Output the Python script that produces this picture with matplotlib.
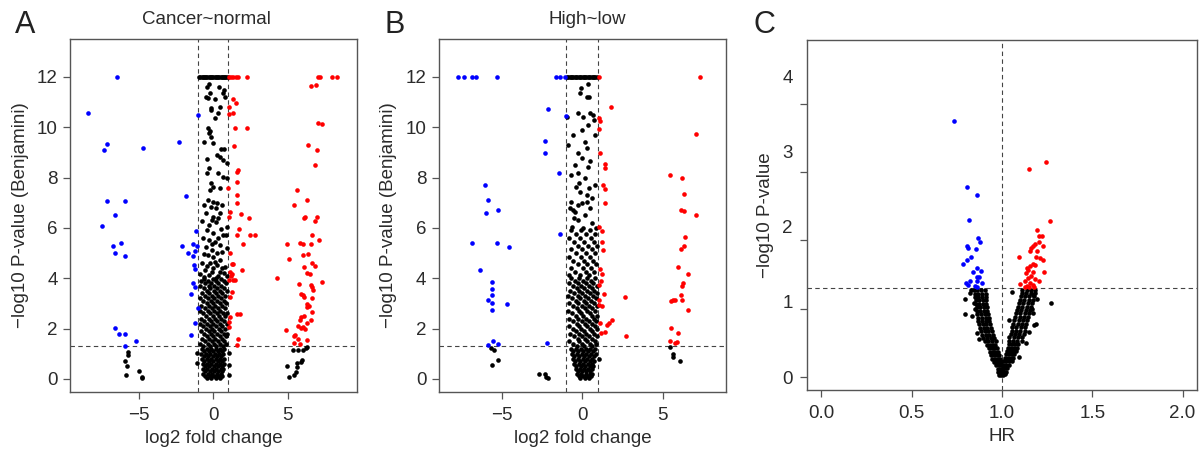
import numpy as np
import matplotlib
matplotlib.use('Agg')
import matplotlib.pyplot as plt

plt.rcParams['font.family'] = ['Liberation Sans', 'DejaVu Sans']

# ---------------- panel A : Cancer~normal ----------------
a_blue = [(-6.46, 12.0), (-8.42, 10.58), (-7.16, 9.32), (-7.34, 9.10), (-4.76, 9.17),
          (-2.31, 9.43), (-1.05, 10.48), (-7.16, 7.07), (-5.93, 7.07), (-1.86, 7.25),
          (-6.64, 6.53), (-7.52, 6.09), (-6.73, 5.28), (-6.24, 5.39), (-6.64, 5.02),
          (-5.93, 4.89), (-1.17, 5.87), (-2.13, 5.28), (-1.35, 5.35), (-1.08, 5.27),
          (-1.71, 5.02), (-1.23, 5.09), (-1.35, 4.87), (-1.30, 4.53), (-1.21, 4.37),
          (-1.39, 3.81), (-1.23, 3.64), (-1.50, 3.38), (-1.03, 2.83), (-1.26, 2.24),
          (-1.48, 1.75), (-6.62, 2.03), (-6.35, 1.77), (-5.95, 1.80), (-5.23, 1.52),
          (-5.93, 1.32)]

a_red = [(1.05, 12.0), (1.20, 12.0), (1.35, 12.0), (1.50, 12.0), (1.65, 12.0), (2.24, 12.0),
         (1.35, 11.11), (1.53, 10.95), (1.08, 10.82), (1.35, 10.58), (1.03, 10.53),
         (1.46, 9.96), (2.24, 9.96), (1.41, 9.26), (1.64, 8.30), (1.59, 8.24), (1.62, 7.84),
         (1.01, 7.60), (1.57, 7.31), (1.62, 6.98), (1.12, 6.65), (1.84, 6.56), (1.08, 6.45),
         (2.42, 6.38), (1.73, 5.95), (1.57, 5.72), (2.47, 5.72), (2.81, 5.72), (1.98, 5.38),
         (1.12, 4.99), (1.23, 4.56), (1.35, 4.56), (1.12, 4.23), (1.23, 4.16), (1.17, 4.09),
         (1.91, 4.33), (1.08, 3.93), (1.35, 3.93), (1.48, 3.93), (1.28, 3.46), (1.12, 3.27),
         (1.62, 2.58), (1.80, 2.58), (1.12, 2.48), (1.08, 2.28), (1.03, 2.08), (1.66, 1.58),
         (1.59, 1.35),
         (7.05, 12.0), (7.19, 12.0), (8.01, 12.0), (8.30, 12.0), (6.60, 11.64), (6.91, 11.68),
         (7.07, 10.16), (7.32, 10.12), (6.40, 9.30), (6.96, 9.10), (6.85, 8.50), (5.61, 7.51),
         (5.43, 6.91), (6.29, 7.11), (6.13, 6.41), (6.17, 6.44), (6.96, 6.45), (6.87, 6.28),
         (6.64, 5.70), (7.09, 5.52), (4.94, 5.36), (5.81, 5.39), (6.02, 5.35), (6.55, 5.36),
         (5.10, 4.77), (6.02, 4.93), (6.35, 4.97), (6.13, 4.46), (6.62, 4.60), (6.82, 4.50),
         (6.33, 4.20), (6.51, 4.16), (4.29, 4.03), (7.32, 3.87), (5.75, 3.79), (6.55, 3.75),
         (6.67, 3.64), (6.71, 3.54), (5.93, 3.36), (6.02, 3.34), (6.11, 3.25), (6.64, 3.21),
         (6.33, 2.97), (6.44, 2.90), (6.33, 2.85), (6.67, 2.65), (5.90, 2.45), (6.11, 2.52),
         (5.84, 2.33), (6.58, 2.34), (5.70, 2.12), (6.33, 2.21), (6.02, 2.08), (6.20, 1.97),
         (5.93, 2.01), (4.87, 1.95), (5.50, 1.75), (5.43, 1.71), (5.72, 1.58), (6.29, 1.55),
         (5.47, 1.44), (5.84, 1.39)]

a_black = [
    # left and right groups below the cut-off
    (-5.75, 1.05), (-5.73, 0.95), (-5.93, 0.72), (-5.82, 0.52), (-5.91, 0.17), (-5.01, 0.33),
    (-4.80, 0.09), (-4.80, 0.05),
    (5.39, 1.14), (5.72, 1.14), (6.06, 1.15), (6.22, 1.22), (6.33, 1.26), (5.99, 0.75),
    (5.90, 0.68), (5.61, 0.65), (5.66, 0.49), (4.98, 0.52), (5.59, 0.26), (5.43, 0.16),
    (5.10, 0.09),
    # capped values at 12
    (-0.95, 12), (-0.87, 12), (-0.79, 12), (-0.71, 12), (-0.63, 12), (-0.55, 12), (-0.47, 12),
    (-0.39, 12), (-0.31, 12), (-0.23, 12), (-0.15, 12), (-0.07, 12), (0.01, 12), (0.09, 12),
    (0.17, 12), (0.25, 12), (0.33, 12), (0.41, 12), (0.49, 12), (0.57, 12), (0.65, 12),
    (0.73, 12), (0.81, 12), (0.89, 12), (0.96, 12),
    # column, upper part
    (-0.27, 11.72), (-0.40, 11.59), (0.36, 11.59), (-0.52, 11.22), (-0.22, 11.35), (-0.34, 11.15),
    (0.11, 11.11), (0.72, 11.48), (0.63, 11.35), (0.79, 11.19), (-0.18, 10.75), (0.45, 10.82),
    (-0.18, 10.69), (0.34, 10.56), (0.11, 10.36), (-0.34, 9.96), (-0.22, 9.85), (-0.63, 9.43),
    (-0.27, 9.76), (-0.18, 9.63), (0.00, 9.39), (0.49, 9.13), (0.72, 9.13), (0.22, 8.90),
    (0.45, 8.83), (0.67, 8.70), (0.90, 8.60), (-0.45, 8.73), (-0.29, 8.37), (-0.40, 8.17),
    (0.34, 8.17), (0.67, 8.04), (0.94, 7.97), (-0.18, 7.77), (0.00, 7.64), (-0.22, 7.51),
    (0.45, 7.58), (-0.34, 7.11), (0.00, 7.05), (0.22, 6.98), (-0.18, 6.85), (0.18, 6.78),
    (0.45, 6.58), (-0.04, 6.45), (-0.79, 6.29), (-0.11, 6.32), (0.18, 6.25), (-0.45, 5.92),
    (0.90, 6.05), (0.00, 5.79), (0.67, 5.72), (0.85, 5.72), (-0.27, 5.52), (0.11, 5.46),
    (-0.49, 5.26), (0.45, 5.32), (0.90, 5.19), (-0.11, 5.13), (0.22, 4.99), (-0.34, 4.93),
    (0.00, 4.83), (0.45, 4.73), (-0.79, 4.60), (-0.22, 4.60), (0.22, 4.53), (0.79, 4.46),
    (-0.56, 4.33), (0.00, 4.40), (0.45, 4.26), (-0.90, 4.17), (-0.27, 4.13), (0.34, 4.07),
    (0.90, 4.09), (-0.60, 6.90), (0.60, 6.90), (-0.50, 6.60), (0.30, 6.40), (-0.30, 6.10),
    (0.50, 5.95), (-0.70, 5.60), (0.30, 5.60), (-0.10, 5.35), (0.60, 5.05), (-0.60, 4.95),
    (0.10, 4.65), (-0.45, 4.50), (0.60, 4.40), (-0.10, 4.25), (0.70, 4.20), (-0.65, 4.05),
    (0.15, 4.00),
    # column, dense part
    (-0.62, 3.98), (-0.05, 3.98), (0.52, 3.98), (-0.80, 3.90), (-0.35, 3.90), (0.18, 3.90),
    (0.70, 3.90), (-0.55, 3.80), (-0.12, 3.80), (0.33, 3.80), (0.86, 3.80), (-0.88, 3.70),
    (-0.30, 3.70), (0.08, 3.70), (0.55, 3.70), (-0.62, 3.60), (-0.20, 3.60), (0.25, 3.60),
    (0.72, 3.60), (-0.42, 3.50), (0.02, 3.50), (0.45, 3.50), (0.90, 3.50), (-0.78, 3.40),
    (-0.28, 3.40), (0.15, 3.40), (0.60, 3.40), (-0.55, 3.30), (-0.08, 3.30), (0.35, 3.30),
    (0.80, 3.30), (-0.90, 3.20), (-0.35, 3.20), (0.05, 3.20), (0.50, 3.20), (-0.66, 3.10),
    (-0.18, 3.10), (0.25, 3.10), (0.70, 3.10), (-0.45, 3.00), (-0.02, 3.00), (0.42, 3.00),
    (0.88, 3.00), (-0.80, 2.90), (-0.30, 2.90), (0.12, 2.90), (0.58, 2.90), (-0.58, 2.80),
    (-0.10, 2.80), (0.32, 2.80), (0.76, 2.80), (-0.92, 2.70), (-0.38, 2.70), (0.02, 2.70),
    (0.48, 2.70), (-0.68, 2.60), (-0.20, 2.60), (0.22, 2.60), (0.66, 2.60), (0.92, 2.60),
    (-0.48, 2.50), (-0.05, 2.50), (0.40, 2.50), (0.82, 2.50), (-0.82, 2.40), (-0.30, 2.40),
    (0.10, 2.40), (0.55, 2.40), (-0.60, 2.30), (-0.15, 2.30), (0.28, 2.30), (0.72, 2.30),
    (-0.92, 2.20), (-0.40, 2.20), (0.00, 2.20), (0.46, 2.20), (0.90, 2.20), (-0.70, 2.10),
    (-0.22, 2.10), (0.18, 2.10), (0.62, 2.10), (-0.50, 2.00), (-0.06, 2.00), (0.36, 2.00),
    (0.80, 2.00), (-0.85, 1.90), (-0.32, 1.90), (0.08, 1.90), (0.52, 1.90), (-0.62, 1.80),
    (-0.16, 1.80), (0.26, 1.80), (0.70, 1.80), (0.93, 1.80), (-0.44, 1.70), (0.00, 1.70),
    (0.42, 1.70), (0.84, 1.70), (-0.78, 1.60), (-0.28, 1.60), (0.14, 1.60), (0.58, 1.60),
    (-0.58, 1.50), (-0.10, 1.50), (0.30, 1.50), (0.74, 1.50), (-0.90, 1.40), (-0.38, 1.40),
    (0.04, 1.40), (0.48, 1.40), (0.88, 1.40), (-0.68, 1.30), (-0.20, 1.30), (0.20, 1.30),
    (0.64, 1.30),
    # column, bottom
    (-0.75, 1.20), (-0.45, 1.20), (-0.15, 1.20), (0.15, 1.20), (0.45, 1.20), (0.72, 1.20),
    (-0.60, 1.10), (-0.30, 1.10), (0.00, 1.10), (0.30, 1.10), (0.60, 1.10),
    (-0.80, 1.00), (-0.50, 1.00), (-0.20, 1.00), (0.10, 1.00), (0.40, 1.00), (0.68, 1.00),
    (-0.65, 0.90), (-0.35, 0.90), (-0.05, 0.90), (0.25, 0.90), (0.55, 0.90),
    (-0.75, 0.80), (-0.45, 0.80), (-0.15, 0.80), (0.15, 0.80), (0.45, 0.80), (0.70, 0.80),
    (-0.60, 0.70), (-0.30, 0.70), (0.00, 0.70), (0.30, 0.70), (0.58, 0.70),
    (-0.72, 0.60), (-0.42, 0.60), (-0.12, 0.60), (0.18, 0.60), (0.48, 0.60), (0.70, 0.60),
    (-0.58, 0.50), (-0.28, 0.50), (0.02, 0.50), (0.32, 0.50), (0.60, 0.50),
    (-0.70, 0.40), (-0.40, 0.40), (-0.10, 0.40), (0.20, 0.40), (0.50, 0.40), (0.68, 0.40),
    (-0.55, 0.30), (-0.25, 0.30), (0.05, 0.30), (0.35, 0.30), (0.60, 0.30),
    (-0.68, 0.20), (-0.38, 0.20), (-0.08, 0.20), (0.22, 0.20), (0.52, 0.20),
    (-0.55, 0.10), (-0.25, 0.10), (0.05, 0.10), (0.35, 0.10), (0.62, 0.10),
    (-0.45, 0.03), (-0.15, 0.03), (0.15, 0.03), (0.45, 0.03),
    (-1.12, 0.62), (-1.08, 1.02), (1.03, 0.16), (1.03, 1.02), (1.05, 0.55)]

# ---------------- panel B : High~low ----------------
b_blue = [(-7.70, 12.0), (-7.35, 12.0), (-6.88, 12.0), (-6.62, 12.0), (-5.30, 12.0),
          (-1.62, 12.0), (-1.38, 12.0), (-1.07, 12.0), (-2.11, 10.72), (-2.32, 9.44),
          (-2.32, 8.97), (-1.43, 8.17), (-6.07, 7.72), (-5.84, 7.10), (-5.96, 6.58),
          (-5.24, 6.72), (-1.39, 5.77), (-6.87, 5.39), (-5.32, 5.39), (-4.55, 5.25),
          (-6.38, 4.32), (-5.61, 3.84), (-5.61, 3.58), (-5.61, 3.32), (-5.84, 3.15),
          (-5.61, 3.02), (-4.70, 2.97), (-5.61, 2.75), (-5.57, 1.52), (-5.86, 1.35),
          (-5.24, 1.40), (-2.22, 1.44), (-1.03, 10.45)]

b_red = [(1.06, 12.0), (7.28, 12.0), (1.76, 10.82), (7.03, 9.72), (5.45, 8.11), (6.18, 7.99),
         (6.31, 7.36), (6.10, 6.70), (6.33, 6.69), (7.05, 6.50), (6.37, 5.63), (6.29, 5.30),
         (6.14, 5.15), (5.91, 4.44), (6.55, 4.16), (6.24, 3.80), (6.20, 3.70), (6.10, 3.35),
         (5.75, 3.15), (5.65, 3.14), (5.48, 3.09), (6.18, 3.13), (6.55, 2.73), (2.62, 3.26),
         (2.68, 1.71), (5.50, 2.04), (5.97, 1.84), (5.45, 1.51), (5.87, 1.46), (5.75, 1.42),
         (1.06, 10.36), (1.12, 10.25), (1.06, 9.92), (1.08, 8.97), (1.41, 8.54), (1.41, 8.40),
         (1.26, 7.71), (1.41, 7.55), (1.39, 7.00), (1.04, 6.05), (1.20, 5.88), (1.24, 5.46),
         (1.26, 5.13), (1.10, 4.37), (1.22, 4.17), (1.04, 3.74), (1.35, 3.38), (1.04, 3.14),
         (1.20, 2.90), (1.06, 2.94), (1.10, 2.24), (1.55, 2.15), (1.68, 2.24), (1.84, 2.34),
         (1.41, 1.85), (1.14, 1.84), (1.16, 3.89)]

b_black = [
    (-5.65, 1.21), (-5.49, 1.13), (-5.63, 0.56), (-5.26, 0.75), (-2.71, 0.20), (-2.34, 0.19),
    (-2.24, 0.09), (-2.13, 0.05),
    (5.45, 1.26), (5.66, 0.98), (5.60, 0.86), (6.08, 0.73),
    # capped values at 12
    (-0.95, 12), (-0.87, 12), (-0.79, 12), (-0.71, 12), (-0.63, 12), (-0.55, 12), (-0.47, 12),
    (-0.39, 12), (-0.31, 12), (-0.23, 12), (-0.15, 12), (-0.07, 12), (0.01, 12), (0.09, 12),
    (0.17, 12), (0.25, 12), (0.33, 12), (0.41, 12), (0.49, 12), (0.57, 12), (0.65, 12),
    (0.73, 12), (0.81, 12), (0.89, 12),
    # column, upper part
    (0.37, 11.72), (-0.08, 11.55), (-0.14, 11.35), (0.27, 11.22), (-0.25, 10.56), (0.06, 10.42),
    (-0.97, 10.42), (0.68, 10.49), (0.37, 10.09), (-0.04, 9.89), (0.79, 9.70), (-0.56, 9.70),
    (0.17, 9.43), (-0.87, 9.30), (0.27, 9.17), (-0.25, 8.97), (-0.04, 8.77), (0.48, 8.64),
    (-0.45, 8.50), (0.37, 8.44), (-0.70, 8.11), (-0.25, 8.17), (0.17, 7.97), (0.79, 7.71),
    (-0.41, 7.64), (-0.14, 7.44), (0.27, 7.31), (-0.70, 7.05), (-0.04, 6.98), (0.48, 6.78),
    (-0.45, 6.65), (0.17, 6.52), (-0.25, 6.32), (0.58, 6.19), (-0.66, 6.05), (0.06, 5.99),
    (-0.76, 6.78), (-0.60, 6.72), (-0.30, 6.90), (0.30, 7.05), (-0.20, 7.80), (0.40, 7.60),
    (0.60, 7.20), (-0.50, 6.40), (0.85, 6.00), (0.50, 10.55), (0.75, 10.30), (0.40, 11.20),
    # column, middle
    (-0.72, 5.90), (-0.10, 5.90), (0.45, 5.90), (-0.40, 5.75), (0.20, 5.75), (0.80, 5.75),
    (-0.85, 5.60), (-0.15, 5.60), (0.55, 5.60), (-0.50, 5.45), (0.10, 5.45), (0.70, 5.45),
    (-0.25, 5.30), (0.35, 5.30), (0.88, 5.30), (-0.68, 5.15), (0.00, 5.15), (0.60, 5.15),
    (-0.40, 5.00), (0.22, 5.00), (0.78, 5.00), (-0.80, 4.85), (-0.10, 4.85), (0.48, 4.85),
    (-0.55, 4.70), (0.12, 4.70), (0.66, 4.70), (-0.30, 4.55), (0.32, 4.55), (0.86, 4.55),
    (-0.70, 4.40), (0.02, 4.40), (0.55, 4.40), (-0.45, 4.25), (0.20, 4.25), (0.75, 4.25),
    (-0.82, 4.12), (-0.12, 4.12), (0.42, 4.12),
    # column, dense part
    (-0.70, 4.00), (-0.20, 4.00), (0.30, 4.00), (0.78, 4.00), (-0.45, 3.90), (0.05, 3.90),
    (0.55, 3.90), (-0.85, 3.80), (-0.30, 3.80), (0.20, 3.80), (0.68, 3.80), (-0.58, 3.70),
    (-0.08, 3.70), (0.40, 3.70), (0.88, 3.70), (-0.35, 3.60), (0.12, 3.60), (0.60, 3.60),
    (-0.78, 3.50), (-0.22, 3.50), (0.28, 3.50), (0.75, 3.50), (-0.52, 3.40), (0.00, 3.40),
    (0.48, 3.40), (0.92, 3.40), (-0.88, 3.30), (-0.30, 3.30), (0.18, 3.30), (0.65, 3.30),
    (-0.62, 3.20), (-0.12, 3.20), (0.36, 3.20), (0.82, 3.20), (-0.40, 3.10), (0.08, 3.10),
    (0.55, 3.10), (-0.82, 3.00), (-0.25, 3.00), (0.25, 3.00), (0.72, 3.00), (-0.55, 2.90),
    (-0.05, 2.90), (0.42, 2.90), (0.90, 2.90), (-0.35, 2.80), (0.15, 2.80), (0.62, 2.80),
    (-0.90, 2.70), (-0.18, 2.70), (0.32, 2.70), (0.80, 2.70), (-0.62, 2.60), (-0.10, 2.60),
    (0.48, 2.60), (-0.40, 2.50), (0.05, 2.50), (0.58, 2.50), (0.92, 2.50), (-0.80, 2.40),
    (-0.25, 2.40), (0.22, 2.40), (0.70, 2.40), (-0.55, 2.30), (-0.05, 2.30), (0.40, 2.30),
    (0.85, 2.30), (-0.32, 2.20), (0.15, 2.20), (0.60, 2.20), (-0.85, 2.10), (-0.20, 2.10),
    (0.30, 2.10), (0.76, 2.10), (-0.60, 2.00), (-0.08, 2.00), (0.45, 2.00), (0.90, 2.00),
    (-0.38, 1.90), (0.10, 1.90), (0.58, 1.90), (-0.78, 1.80), (-0.22, 1.80), (0.25, 1.80),
    (0.72, 1.80), (-0.52, 1.70), (0.00, 1.70), (0.42, 1.70), (0.88, 1.70), (-0.30, 1.60),
    (0.16, 1.60), (0.62, 1.60), (-0.82, 1.50), (-0.18, 1.50), (0.30, 1.50), (0.78, 1.50),
    (-0.58, 1.40), (-0.05, 1.40), (0.45, 1.40), (0.86, 1.40), (-0.35, 1.30), (0.12, 1.30),
    (0.60, 1.30),
    # column, bottom
    (-0.70, 1.20), (-0.40, 1.20), (-0.10, 1.20), (0.20, 1.20), (0.50, 1.20), (0.80, 1.20),
    (-0.55, 1.10), (-0.25, 1.10), (0.05, 1.10), (0.35, 1.10), (0.65, 1.10),
    (-0.65, 1.00), (-0.35, 1.00), (-0.05, 1.00), (0.25, 1.00), (0.55, 1.00), (0.82, 1.00),
    (-0.50, 0.90), (-0.20, 0.90), (0.10, 0.90), (0.40, 0.90), (0.70, 0.90),
    (-0.58, 0.80), (-0.28, 0.80), (0.02, 0.80), (0.32, 0.80), (0.62, 0.80),
    (-0.45, 0.70), (-0.15, 0.70), (0.15, 0.70), (0.45, 0.70), (0.70, 0.70),
    (-0.50, 0.60), (-0.22, 0.60), (0.06, 0.60), (0.34, 0.60), (0.60, 0.60),
    (-0.38, 0.50), (-0.10, 0.50), (0.18, 0.50), (0.46, 0.50), (0.66, 0.50),
    (-0.42, 0.40), (-0.15, 0.40), (0.12, 0.40), (0.38, 0.40), (0.62, 0.40),
    (-0.30, 0.30), (-0.04, 0.30), (0.22, 0.30), (0.48, 0.30),
    (-0.32, 0.20), (-0.06, 0.20), (0.20, 0.20), (0.45, 0.20), (0.60, 0.20),
    (-0.22, 0.10), (0.04, 0.10), (0.30, 0.10), (0.52, 0.10),
    (-0.12, 0.03), (0.14, 0.03), (0.40, 0.03),
    (1.04, 0.78)]

# ---------------- panel C : HR ----------------
c_blue = [(0.736, 3.74), (0.806, 2.78), (0.865, 2.66), (0.819, 2.30), (0.867, 2.03),
          (0.880, 1.97), (0.806, 1.91), (0.812, 1.88), (0.858, 1.87), (0.806, 1.71),
          (0.832, 1.75), (0.784, 1.66), (0.862, 1.59), (0.884, 1.55), (0.838, 1.53),
          (0.865, 1.47), (0.876, 1.46), (0.862, 1.41), (0.825, 1.40), (0.799, 1.38),
          (0.889, 1.38), (0.812, 1.34), (0.849, 1.33), (0.862, 1.32)]

c_red = [(1.244, 3.15), (1.153, 3.04), (1.269, 2.28), (1.192, 2.15), (1.203, 2.07),
         (1.220, 2.06), (1.183, 1.95), (1.203, 1.97), (1.225, 1.92), (1.160, 1.89),
         (1.175, 1.92), (1.157, 1.85), (1.196, 1.84), (1.188, 1.76), (1.210, 1.74),
         (1.225, 1.71), (1.094, 1.76), (1.171, 1.66), (1.186, 1.64), (1.138, 1.59),
         (1.157, 1.62), (1.147, 1.56), (1.170, 1.54), (1.133, 1.52), (1.231, 1.53),
         (1.160, 1.48), (1.142, 1.45), (1.184, 1.43), (1.203, 1.40), (1.129, 1.40),
         (1.101, 1.36), (1.157, 1.37), (1.170, 1.35), (1.138, 1.33), (1.179, 1.32),
         (1.127, 1.31), (1.153, 1.31)]

c_black = [
    # scattered
    (0.797, 1.14), (0.795, 0.92), (0.828, 1.27), (0.845, 1.08), (0.834, 0.89), (0.850, 1.00),
    (0.862, 0.64), (0.871, 0.55), (0.825, 1.23),
    (1.057, 1.25), (1.041, 0.83), (1.197, 1.14), (1.271, 1.09), (1.172, 0.93), (1.190, 0.78),
    (1.153, 0.66), (1.133, 0.50), (1.094, 0.30), (1.180, 0.76), (1.165, 1.00), (1.170, 1.20),
    # left arm
    (0.845, 1.27), (0.865, 1.27), (0.885, 1.27), (0.905, 1.27),
    (0.850, 1.22), (0.870, 1.22), (0.890, 1.22), (0.910, 1.22),
    (0.850, 1.17), (0.870, 1.17), (0.890, 1.17), (0.910, 1.17),
    (0.855, 1.12), (0.875, 1.12), (0.895, 1.12), (0.915, 1.12),
    (0.855, 1.07), (0.875, 1.07), (0.895, 1.07), (0.915, 1.07),
    (0.860, 1.02), (0.880, 1.02), (0.900, 1.02), (0.920, 1.02),
    (0.860, 0.97), (0.880, 0.97), (0.900, 0.97), (0.920, 0.97),
    (0.865, 0.92), (0.885, 0.92), (0.905, 0.92), (0.925, 0.92),
    (0.870, 0.87), (0.890, 0.87), (0.910, 0.87), (0.930, 0.87),
    (0.870, 0.82), (0.890, 0.82), (0.910, 0.82), (0.930, 0.82),
    (0.875, 0.77), (0.895, 0.77), (0.915, 0.77), (0.935, 0.77),
    (0.880, 0.72), (0.900, 0.72), (0.920, 0.72), (0.940, 0.72),
    (0.885, 0.67), (0.905, 0.67), (0.925, 0.67), (0.945, 0.67),
    (0.890, 0.62), (0.910, 0.62), (0.930, 0.62), (0.950, 0.62),
    (0.898, 0.57), (0.918, 0.57), (0.938, 0.57), (0.958, 0.57),
    (0.905, 0.52), (0.925, 0.52), (0.945, 0.52), (0.965, 0.52),
    (0.920, 0.47), (0.935, 0.47), (0.950, 0.47), (0.964, 0.47),
    (0.928, 0.42), (0.943, 0.42), (0.958, 0.42), (0.972, 0.42),
    (0.934, 0.37), (0.949, 0.37), (0.964, 0.37), (0.978, 0.37),
    (0.941, 0.32), (0.956, 0.32), (0.971, 0.32), (0.985, 0.32),
    (0.948, 0.27), (0.963, 0.27), (0.978, 0.27), (0.992, 0.27),
    (0.954, 0.22), (0.969, 0.22), (0.984, 0.22), (0.998, 0.22),
    (0.970, 0.17), (0.982, 0.17), (0.994, 0.17),
    (0.976, 0.12), (0.988, 0.12), (1.000, 0.12),
    (0.981, 0.07), (0.993, 0.07), (1.005, 0.07),
    (0.985, 0.03), (0.997, 0.03), (1.009, 0.03),
    # right arm
    (1.114, 1.27), (1.138, 1.27), (1.162, 1.27), (1.186, 1.27),
    (1.111, 1.23), (1.135, 1.23), (1.159, 1.23), (1.183, 1.23),
    (1.104, 1.18), (1.128, 1.18), (1.152, 1.18), (1.176, 1.18),
    (1.101, 1.13), (1.125, 1.13), (1.149, 1.13), (1.173, 1.13),
    (1.094, 1.08), (1.118, 1.08), (1.142, 1.08), (1.166, 1.08),
    (1.089, 1.03), (1.113, 1.03), (1.137, 1.03), (1.161, 1.03),
    (1.084, 0.98), (1.108, 0.98), (1.132, 0.98), (1.156, 0.98),
    (1.079, 0.93), (1.103, 0.93), (1.127, 0.93), (1.151, 0.93),
    (1.074, 0.88), (1.098, 0.88), (1.122, 0.88), (1.146, 0.88),
    (1.069, 0.83), (1.093, 0.83), (1.117, 0.83), (1.141, 0.83),
    (1.064, 0.78), (1.088, 0.78), (1.112, 0.78), (1.136, 0.78),
    (1.056, 0.73), (1.080, 0.73), (1.104, 0.73), (1.128, 0.73),
    (1.054, 0.68), (1.078, 0.68), (1.102, 0.68), (1.126, 0.68),
    (1.049, 0.63), (1.073, 0.63), (1.097, 0.63), (1.121, 0.63),
    (1.042, 0.58), (1.066, 0.58), (1.090, 0.58), (1.114, 0.58),
    (1.037, 0.53), (1.061, 0.53), (1.085, 0.53), (1.109, 0.53),
    (1.042, 0.48), (1.058, 0.48), (1.074, 0.48), (1.090, 0.48),
    (1.036, 0.43), (1.052, 0.43), (1.068, 0.43), (1.084, 0.43),
    (1.029, 0.38), (1.045, 0.38), (1.061, 0.38), (1.077, 0.38),
    (1.022, 0.33), (1.038, 0.33), (1.054, 0.33), (1.070, 0.33),
    (1.016, 0.28), (1.032, 0.28), (1.048, 0.28), (1.064, 0.28),
    (1.008, 0.23), (1.024, 0.23), (1.040, 0.23), (1.056, 0.23),
    (1.013, 0.18), (1.025, 0.18), (1.037, 0.18),
    (1.006, 0.13), (1.018, 0.13), (1.030, 0.13),
    (0.999, 0.08), (1.011, 0.08), (1.023, 0.08),
    (0.993, 0.04), (1.005, 0.04), (1.017, 0.04)]

c_xticks = [0.0, 0.5, 1.0, 1.5, 2.0]
c_yticks = [0, 1, 2, 3, 4]
c_ylabel_pos = [0, 1.1, 2.2, 3.3, 4.4]   # where the labels sit in the original figure
c_ylabel_txt = ['0', '1', '2', '3', '4']

P_CUT = -np.log10(0.05)
GREY = '#555555'
TXT = '#2b2b2b'
FS = 13.5


def style(ax):
    for s in ax.spines.values():
        s.set_color(GREY)
        s.set_linewidth(1.0)
    ax.tick_params(direction='out', length=5, width=0.9, color=GREY,
                   labelcolor=TXT, labelsize=FS)
    ax.tick_params(axis='x', pad=6)
    ax.tick_params(axis='y', pad=4)


def dots(ax, pts, col):
    p = np.array(pts)
    ax.scatter(p[:, 0], p[:, 1], s=11, c=col, linewidths=0, zorder=3)


def volcano(ax, blk, blue, red, xlim):
    dots(ax, blk, 'black')
    dots(ax, blue, '#0000ff')
    dots(ax, red, '#ff0000')
    for v in (-1, 1):
        ax.axvline(v, color='#444444', lw=0.8, ls=(0, (4, 3)), zorder=2)
    ax.axhline(P_CUT, color='#444444', lw=0.8, ls=(0, (4, 3)), zorder=2)
    ax.set_xlim(xlim)
    ax.set_ylim(-0.52, 13.52)
    ax.set_xticks([-5, 0, 5])
    ax.set_yticks([0, 2, 4, 6, 8, 10, 12])
    ax.set_xlabel('log2 fold change', fontsize=FS, color=TXT, labelpad=4)
    ax.set_ylabel('\u2212log10 P-value (Benjamini)', fontsize=FS, color=TXT, labelpad=6)
    style(ax)


fig = plt.figure(figsize=(12.01, 4.51), dpi=100)
W, H = 1201.0, 451.0

axA = fig.add_axes([70.3 / W, 59 / H, 287 / W, 353.3 / H])
volcano(axA, a_black, a_blue, a_red, (-9.63, 9.70))

axB = fig.add_axes([439 / W, 59 / H, 287 / W, 353.3 / H])
volcano(axB, b_black, b_blue, b_red, (-8.90, 8.92))

axC = fig.add_axes([806.7 / W, 61 / H, 390.3 / W, 350 / H])
dots(axC, c_black, 'black')
dots(axC, c_blue, '#0000ff')
dots(axC, c_red, '#ff0000')
axC.axvline(1.0, color='#444444', lw=0.8, ls=(0, (4, 3)), zorder=2)
axC.axhline(P_CUT, color='#444444', lw=0.8, ls=(0, (4, 3)), zorder=2)
axC.set_xlim(-0.08, 2.08)
axC.set_ylim(-0.19, 4.93)
axC.set_xticks(c_xticks, ['0.0', '0.5', '1.0', '1.5', '2.0'])
axC.set_yticks(c_yticks, ['', '', '', '', ''])
axC.yaxis.remove_overlapping_locs = False
axC.set_yticks(c_ylabel_pos, c_ylabel_txt, minor=True)
axC.set_xlabel('HR', fontsize=FS, color=TXT, labelpad=4)
axC.set_ylabel('\u2212log10 P-value', fontsize=FS, color=TXT, labelpad=6)
style(axC)
axC.tick_params(axis='y', which='minor', length=0, pad=10, labelsize=FS, labelcolor=TXT)

# panel letters and titles
for x, letter in ((25, 'A'), (395, 'B'), (764, 'C')):
    fig.text(x / W, 1 - 25 / H, letter, fontsize=22, color='#222222', ha='center', va='center')
fig.text(206 / W, 1 - 20 / H, 'Cancer~normal', fontsize=FS, color=TXT, ha='center', va='center')
fig.text(587 / W, 1 - 20 / H, 'High~low', fontsize=FS, color=TXT, ha='center', va='center')

fig.savefig('out.png', dpi=100)
